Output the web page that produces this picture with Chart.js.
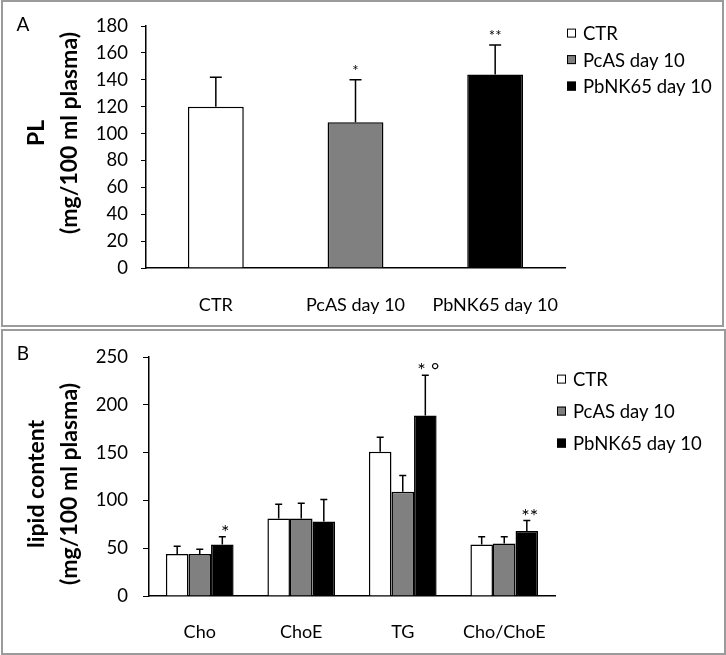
<!DOCTYPE html>
<html lang="en">
<head>
  <meta charset="UTF-8">
  <title>PL and lipid content</title>
  <script src="https://cdn.jsdelivr.net/npm/chart.js"></script>
  <style>
    body { margin: 0; background: #fff; width: 726px; height: 655px; position: relative; overflow: hidden; }
    .painel { position: absolute; border: 2px solid #9b9b9b; background: #fff; }
    #painelA { left: 1px; top: 0; width: 719px; height: 323px; }
    #painelB { left: 1px; top: 329px; width: 721px; height: 322px; }
    canvas { display: block; }
  </style>
</head>
<body>
  <div class="painel" id="painelA"><canvas id="graficoPL" width="719" height="323"></canvas></div>
  <div class="painel" id="painelB"><canvas id="graficoLipidios" width="721" height="322"></canvas></div>

  <script>
    // dados
    const grupos = ["CTR", "PcAS day 10", "PbNK65 day 10"];
    const coresGrupos = ["#ffffff", "#808080", "#000000"];

    // painel A - PL
    const plMedia = [120, 108.5, 144];
    const plErro = [22, 31.5, 22];
    const plMarcas = ["", "*", "**"];
    const plTicks = [0, 20, 40, 60, 80, 100, 120, 140, 160, 180];

    // painel B - lipidios
    const lipidios = ["Cho", "ChoE", "TG", "Cho/ChoE"];
    const ctrMedia = [44, 81, 151, 54];
    const ctrErro = [8, 15, 15, 8];
    const pcasMedia = [44, 81, 109, 55];
    const pcasErro = [5, 16, 17, 7];
    const pbnkMedia = [54, 78, 189, 68];
    const pbnkErro = [8, 23, 42, 11];
    const pbnkMarcas = ["*", "", "* \u00b0", "**"];
    const lipTicks = [0, 50, 100, 150, 200, 250];

    const fonte = "Lato, 'Noto Sans', sans-serif";
    Chart.defaults.font.family = fonte;
    Chart.defaults.color = "#000";

    // barras de erro, marcas, legenda, titulo do eixo e letra do painel
    const extras = {
      id: "extras",
      afterDatasetsDraw(chart, args, o) {
        const ctx = chart.ctx;
        const y = chart.scales.y;
        const area = chart.chartArea;
        ctx.save();
        ctx.strokeStyle = "#000";
        ctx.lineWidth = 1.5;
        chart.data.datasets.forEach((ds, i) => {
          chart.getDatasetMeta(i).data.forEach((bar, j) => {
            const yBase = y.getPixelForValue(ds.data[j]);
            const yTopo = y.getPixelForValue(ds.data[j] + ds.erros[j]);
            ctx.beginPath();
            ctx.moveTo(bar.x, yBase);
            ctx.lineTo(bar.x, yTopo);
            ctx.moveTo(bar.x - o.cap / 2, yTopo);
            ctx.lineTo(bar.x + o.cap / 2, yTopo);
            ctx.stroke();
            const marca = ds.marcas ? ds.marcas[j] : "";
            if (marca) {
              ctx.fillStyle = "#000";
              ctx.font = o.fonteMarca + "px " + fonte;
              ctx.textAlign = "center";
              ctx.textBaseline = "alphabetic";
              ctx.fillText(marca, bar.x + o.dxMarca, yTopo + o.dyMarca);
            }
          });
        });

        // legenda
        ctx.font = "18.5px " + fonte;
        ctx.textAlign = "left";
        ctx.textBaseline = "middle";
        grupos.forEach((g, k) => {
          const ly = area.top + o.legTopo + k * o.legPasso;
          const lx = area.right + 2;
          ctx.fillStyle = coresGrupos[k];
          ctx.fillRect(lx, ly - 4.5, 9, 9);
          ctx.lineWidth = 1;
          ctx.strokeStyle = "#000";
          ctx.strokeRect(lx + 0.5, ly - 4, 8, 8);
          ctx.fillStyle = "#000";
          ctx.fillText(g, lx + 16, ly + 1);
        });

        // titulo do eixo y
        ctx.save();
        ctx.translate(0, o.tituloY);
        ctx.rotate(-Math.PI / 2);
        ctx.font = "bold 23px " + fonte;
        ctx.textAlign = "center";
        ctx.textBaseline = "middle";
        ctx.fillText(o.titulo[0], 0, 34);
        ctx.fillText(o.titulo[1], 0, 67);
        ctx.restore();

        // letra do painel
        ctx.font = "19px " + fonte;
        ctx.textAlign = "center";
        ctx.textBaseline = "middle";
        ctx.fillText(o.letra, 20, 23);
        ctx.restore();
      }
    };

    function escalaY(ticks, largura, marca, folga) {
      return {
        min: 0,
        max: ticks[ticks.length - 1],
        afterBuildTicks: s => { s.ticks = ticks.map(v => ({ value: v })); },
        afterFit: s => { s.width = largura; },
        grid: { drawOnChartArea: false, drawTicks: true, tickLength: marca, color: "#000" },
        border: { display: true, color: "#000", width: 1.5 },
        ticks: { font: { size: 18.5 }, padding: folga, color: "#000" }
      };
    }

    function escalaX(folga) {
      return {
        afterFit: s => { s.height = 50; },
        grid: { display: false, drawTicks: false },
        border: { display: true, color: "#000", width: 1.5 },
        ticks: { font: { size: 18 }, padding: folga, color: "#000", maxRotation: 0, autoSkip: false }
      };
    }

    new Chart(document.getElementById("graficoPL"), {
      type: "bar",
      data: {
        labels: grupos,
        datasets: [{
          label: "PL",
          data: plMedia,
          erros: plErro,
          marcas: plMarcas,
          backgroundColor: coresGrupos,
          borderColor: "#000",
          borderWidth: 1.5,
          categoryPercentage: 0.4,
          barPercentage: 1
        }]
      },
      options: {
        responsive: false,
        animation: false,
        layout: { padding: { left: 0, right: 157, top: 21, bottom: 7 } },
        scales: { x: escalaX(26), y: escalaY(plTicks, 143, 5, 13) },
        plugins: {
          legend: { display: false },
          tooltip: { enabled: false },
          extras: {
            cap: 12, fonteMarca: 15, dxMarca: 0, dyMarca: -4,
            legTopo: 7, legPasso: 26.5,
            titulo: ["PL", "(mg/100 ml plasma)"], tituloY: 131, letra: "A"
          }
        }
      },
      plugins: [extras]
    });

    new Chart(document.getElementById("graficoLipidios"), {
      type: "bar",
      data: {
        labels: lipidios,
        datasets: [
          { label: grupos[0], data: ctrMedia, erros: ctrErro, backgroundColor: coresGrupos[0] },
          { label: grupos[1], data: pcasMedia, erros: pcasErro, backgroundColor: coresGrupos[1] },
          { label: grupos[2], data: pbnkMedia, erros: pbnkErro, marcas: pbnkMarcas, backgroundColor: coresGrupos[2] }
        ].map(d => Object.assign(d, { borderColor: "#000", borderWidth: 1.5, categoryPercentage: 0.667, barPercentage: 1 }))
      },
      options: {
        responsive: false,
        animation: false,
        layout: { padding: { left: 0, right: 169, top: 20, bottom: 7 } },
        scales: { x: escalaX(25), y: escalaY(lipTicks, 146, 6, 15) },
        plugins: {
          legend: { display: false },
          tooltip: { enabled: false },
          extras: {
            cap: 7, fonteMarca: 20, dxMarca: 3, dyMarca: 2,
            legTopo: 22, legPasso: 32,
            titulo: ["lipid content", "(mg/100 ml plasma)"], tituloY: 153, letra: "B"
          }
        }
      },
      plugins: [extras]
    });
  </script>
</body>
</html>
